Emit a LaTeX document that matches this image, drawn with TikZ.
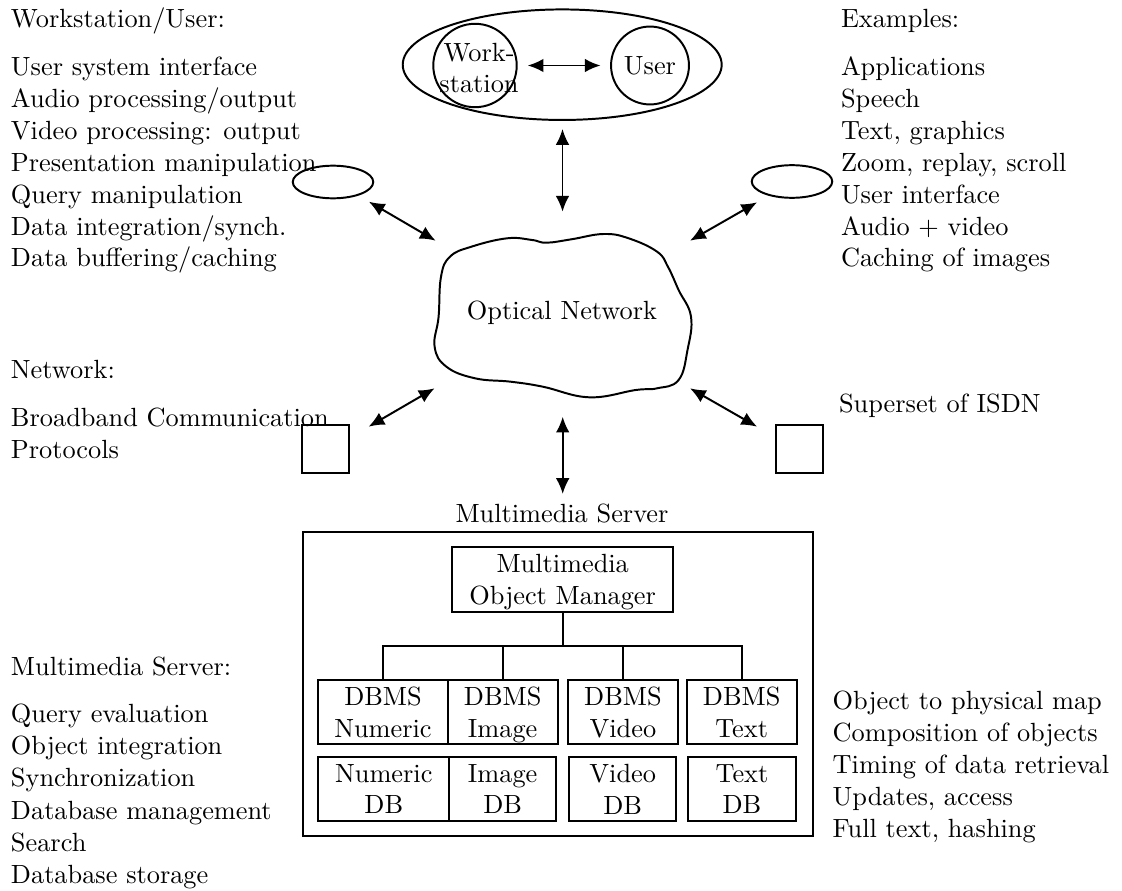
\documentclass[tikz,border=0pt]{standalone}
\usetikzlibrary{arrows.meta,shapes.geometric}
\begin{document}
\begin{tikzpicture}[x=0.38pt, y=-0.38pt, line width=0.75pt,
  font=\fontsize{10}{12}\selectfont,
  >={Latex[length=6pt,width=5.2pt]},
  link/.style={<->},
  sidetext/.style={anchor=base west, inner sep=0pt},
  plainbox/.style={draw, inner sep=0pt},
  dbbox/.style={draw, inner sep=0pt, align=center, text depth=0pt, minimum height=24.5pt}]
\useasboundingbox (0,0) rectangle (1122,890);

% --- workstation / user group ---
\node[draw, ellipse, minimum width=121.2pt, minimum height=42pt, inner sep=0pt] (wsu) at (562.2,64.7) {};
\node[draw, circle, minimum size=31.7pt, inner sep=0pt] (ws) at (475,65.5) {};
\node[align=center, inner sep=0pt] (wstext) at (479,68) {Work-\\station};
\node[draw, circle, minimum size=29.6pt, inner sep=0pt] (user) at (650,65.5) {User};
\draw[link, shorten <=3.8pt, shorten >=3.6pt] (ws) -- (user);

% --- optical network cloud ---
\draw plot[smooth cycle, tension=0.7] coordinates {
  (450,256.7) (471.4,246.7) (507.1,238.3) (532.1,240) (546.4,242.7)
  (571.4,239.3) (603.6,234) (628.6,238.3) (657.1,251.7) (667.9,266.7)
  (678.6,290) (691,316.7) (687.5,350) (678.6,380) (657.1,388.3)
  (635.7,390) (589.3,397.3) (542.9,386.7) (510.7,381.7) (475,378.3)
  (446.4,366.7) (434.6,346.7) (438.6,316.7) (441,276.7)};
\node (net) at (562,313) {Optical Network};

% --- peripheral symbols ---
\node[plainbox, ellipse, minimum width=30.6pt, minimum height=12.4pt] (eL) at (333,182) {};
\node[plainbox, ellipse, minimum width=30.6pt, minimum height=12.4pt] (eR) at (792,181.5) {};
\node[plainbox, minimum size=18.1pt] (sqL) at (325.5,448.8) {};
\node[plainbox, minimum size=18.1pt] (sqR) at (799.5,448.8) {};

% --- arrow end points around the cloud ---
\coordinate (topA) at (562.5,129);
\coordinate (topB) at (562.5,211.7);
\coordinate (ulA) at (368.9,201.7);
\coordinate (ulB) at (435.7,240.7);
\coordinate (urA) at (757.1,202.3);
\coordinate (urB) at (690,240.7);
\coordinate (llA) at (434.6,388.3);
\coordinate (llB) at (368.6,426.7);
\coordinate (lrA) at (690,388.3);
\coordinate (lrB) at (757.1,426.7);
\coordinate (botA) at (562.7,416.7);
\coordinate (botB) at (562.7,494);
\draw[link] (topA) -- (topB);
\draw[link] (ulA) -- (ulB);
\draw[link] (urA) -- (urB);
\draw[link] (llA) -- (llB);
\draw[link] (lrA) -- (lrB);
\draw[link] (botA) -- (botB);

% --- multimedia server ---
\node[anchor=base, inner sep=0pt] (srvlabel) at (562,522.7) {Multimedia Server};
\node[plainbox, minimum width=194pt, minimum height=115.6pt] (srv) at (558,683.9) {};
\node[dbbox, minimum width=84pt, minimum height=24.7pt] (mom) at (562.7,579.2) {Multimedia\\Object Manager};

\node[dbbox, minimum width=49.2pt] (d1) at (383,712) {DBMS\\Numeric};
\node[dbbox, minimum width=41.8pt] (d2) at (502.7,712) {DBMS\\Image};
\node[dbbox, minimum width=42pt] (d3) at (622.9,712) {DBMS\\Video};
\node[dbbox, minimum width=41.8pt] (d4) at (741.7,712) {DBMS\\Text};

\node[dbbox, minimum width=49.8pt] (b1) at (383.8,789.2) {Numeric\\DB};
\node[dbbox, minimum width=40.5pt] (b2) at (502.7,789.2) {Image\\DB};
\node[dbbox, minimum width=40.5pt] (b3) at (622.7,789.2) {Video\\DB};
\node[dbbox, minimum width=40.8pt] (b4) at (742,789.2) {Text\\DB};

\coordinate (bus) at (0,646);
\draw (mom.south) -- (mom.south |- bus);
\draw (d1.north) -- (d1.north |- bus) -- (d4.north |- bus) -- (d4.north);
\draw (d2.north) -- (d2.north |- bus);
\draw (d3.north) -- (d3.north |- bus);

% --- side descriptions ---
\node[sidetext] (hWU) at (10,27.3) {Workstation/User:};
\foreach \txt [count=\i from 0] in {User system interface, {Audio processing/output},
    {Video processing: output}, Presentation manipulation, Query manipulation,
    {Data integration/synch.}, {Data buffering/caching}}
  \node[sidetext] (wu\i) at (10,{76+\i*31.8}) {\txt};

\node[sidetext] (hEx) at (840,27.3) {Examples:};
\foreach \txt [count=\i from 0] in {Applications, Speech, {Text, graphics},
    {Zoom, replay, scroll}, User interface, Audio + video, Caching of images}
  \node[sidetext] (ex\i) at (840,{76+\i*31.8}) {\txt};

\node[sidetext] (hNet) at (10,378) {Network:};
\node[sidetext] (net0) at (10,426.7) {Broadband Communication};
\node[sidetext] (net1) at (10,458.7) {Protocols};
\node[sidetext] (isdn) at (838,412) {Superset of ISDN};

\node[sidetext] (hMS) at (10,675) {Multimedia Server:};
\foreach \txt [count=\i from 0] in {Query evaluation, Object integration,
    Synchronization, Database management, Search, Database storage}
  \node[sidetext] (ms\i) at (10,{722.7+\i*32.1}) {\txt};

\foreach \txt [count=\i from 0] in {Object to physical map, Composition of objects,
    Timing of data retrieval, {Updates, access}, {Full text, hashing}}
  \node[sidetext] (ob\i) at (831.7,{709.3+\i*32.1}) {\txt};
\end{tikzpicture}
\end{document}
